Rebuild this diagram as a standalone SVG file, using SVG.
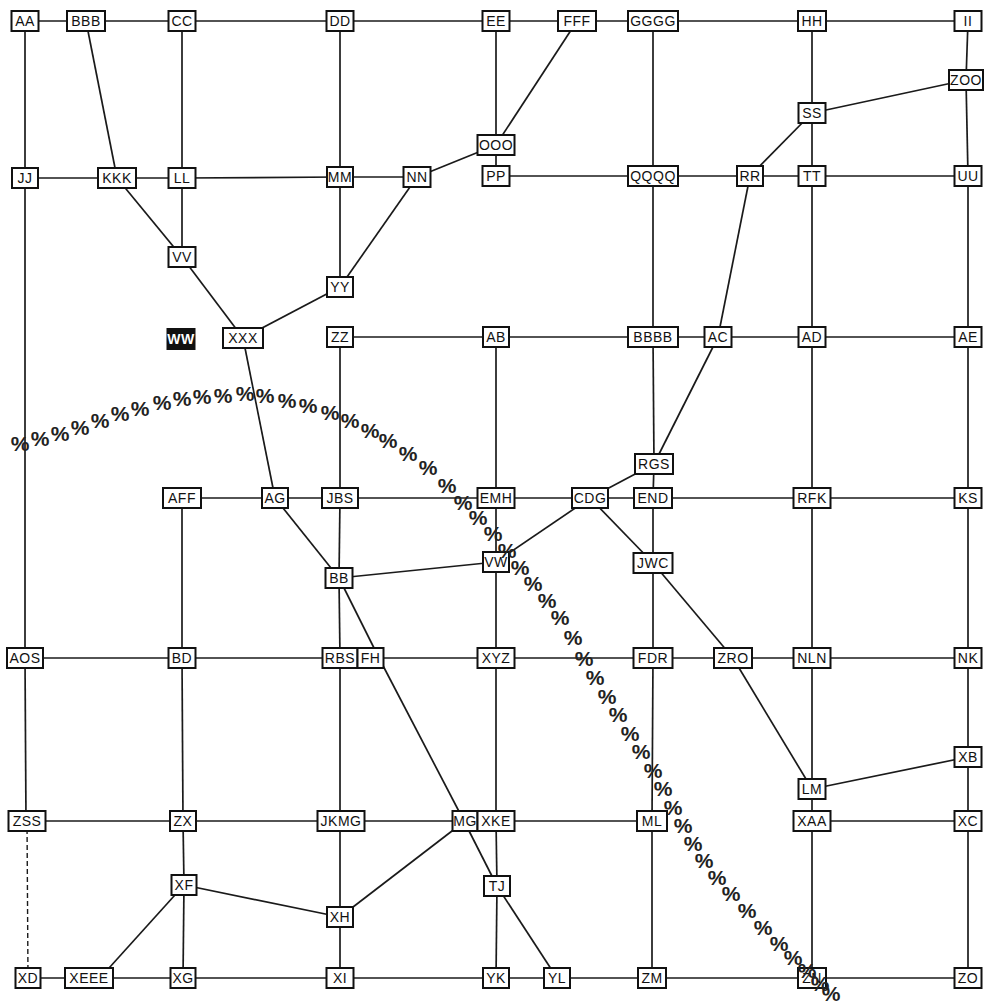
<svg xmlns="http://www.w3.org/2000/svg" width="984" height="1004" viewBox="0 0 984 1004">
<style>
.e{stroke:#1a1a1a;stroke-width:1.7;fill:none}
.d{stroke:#1a1a1a;stroke-width:1.4;fill:none;stroke-dasharray:5 3}
.node rect{fill:#fff;stroke:#111;stroke-width:2}
.node text{font-family:"Liberation Sans",Arial,sans-serif;font-size:14px;letter-spacing:0.5px;fill:#111;text-anchor:middle}
.node.dark rect{fill:#111}
.node.dark text{fill:#fff;font-weight:bold}
.pc text{font-family:"Liberation Sans",Arial,sans-serif;font-size:21px;font-weight:bold;fill:#222;text-anchor:middle}
</style>
<rect width="984" height="1004" fill="#fff"/>
<g id="connectors">
<line class="e" x1="25" y1="21" x2="86" y2="21"/>
<line class="e" x1="86" y1="21" x2="182" y2="21"/>
<line class="e" x1="182" y1="21" x2="340" y2="21"/>
<line class="e" x1="340" y1="21" x2="496" y2="21"/>
<line class="e" x1="496" y1="21" x2="577" y2="21"/>
<line class="e" x1="577" y1="21" x2="653" y2="21"/>
<line class="e" x1="653" y1="21" x2="812" y2="21"/>
<line class="e" x1="812" y1="21" x2="968" y2="21"/>
<line class="e" x1="25" y1="178" x2="117" y2="178"/>
<line class="e" x1="117" y1="178" x2="182" y2="178"/>
<line class="e" x1="182" y1="178" x2="340" y2="177"/>
<line class="e" x1="340" y1="177" x2="417" y2="177"/>
<line class="e" x1="496" y1="176" x2="653" y2="176"/>
<line class="e" x1="653" y1="176" x2="750" y2="176"/>
<line class="e" x1="750" y1="176" x2="812" y2="176"/>
<line class="e" x1="812" y1="176" x2="968" y2="176"/>
<line class="e" x1="340" y1="337" x2="496" y2="337"/>
<line class="e" x1="496" y1="337" x2="653" y2="337"/>
<line class="e" x1="653" y1="337" x2="718" y2="337"/>
<line class="e" x1="718" y1="337" x2="812" y2="337"/>
<line class="e" x1="812" y1="337" x2="968" y2="337"/>
<line class="e" x1="182" y1="498" x2="275" y2="498"/>
<line class="e" x1="275" y1="498" x2="340" y2="498"/>
<line class="e" x1="340" y1="498" x2="496" y2="498"/>
<line class="e" x1="496" y1="498" x2="590" y2="498"/>
<line class="e" x1="590" y1="498" x2="653" y2="498"/>
<line class="e" x1="653" y1="498" x2="812" y2="498"/>
<line class="e" x1="812" y1="498" x2="968" y2="498"/>
<line class="e" x1="25" y1="658" x2="182" y2="658"/>
<line class="e" x1="182" y1="658" x2="340" y2="658"/>
<line class="e" x1="370" y1="658" x2="496" y2="658"/>
<line class="e" x1="496" y1="658" x2="653" y2="658"/>
<line class="e" x1="653" y1="658" x2="733" y2="658"/>
<line class="e" x1="733" y1="658" x2="812" y2="658"/>
<line class="e" x1="812" y1="658" x2="968" y2="658"/>
<line class="e" x1="27" y1="821" x2="183" y2="821"/>
<line class="e" x1="183" y1="821" x2="341" y2="821"/>
<line class="e" x1="341" y1="821" x2="465" y2="821"/>
<line class="e" x1="496" y1="821" x2="652" y2="821"/>
<line class="e" x1="812" y1="821" x2="968" y2="821"/>
<line class="e" x1="28" y1="978" x2="89" y2="978"/>
<line class="e" x1="89" y1="978" x2="183" y2="978"/>
<line class="e" x1="183" y1="978" x2="340" y2="978"/>
<line class="e" x1="340" y1="978" x2="496" y2="978"/>
<line class="e" x1="496" y1="978" x2="557" y2="978"/>
<line class="e" x1="557" y1="978" x2="652" y2="978"/>
<line class="e" x1="652" y1="978" x2="812" y2="978"/>
<line class="e" x1="812" y1="978" x2="968" y2="978"/>
<line class="e" x1="25" y1="21" x2="25" y2="178"/>
<line class="e" x1="25" y1="178" x2="25" y2="658"/>
<line class="e" x1="25" y1="658" x2="26" y2="821"/>
<line class="d" x1="27" y1="821" x2="28" y2="978"/>
<line class="e" x1="182" y1="21" x2="182" y2="178"/>
<line class="e" x1="182" y1="178" x2="182" y2="257"/>
<line class="e" x1="182" y1="498" x2="182" y2="658"/>
<line class="e" x1="182" y1="658" x2="183" y2="821"/>
<line class="e" x1="183" y1="821" x2="184" y2="885"/>
<line class="e" x1="184" y1="885" x2="183" y2="978"/>
<line class="e" x1="340" y1="21" x2="340" y2="177"/>
<line class="e" x1="340" y1="177" x2="340" y2="287"/>
<line class="e" x1="340" y1="337" x2="340" y2="498"/>
<line class="e" x1="340" y1="498" x2="339" y2="578"/>
<line class="e" x1="339" y1="578" x2="340" y2="658"/>
<line class="e" x1="340" y1="658" x2="340" y2="821"/>
<line class="e" x1="340" y1="821" x2="340" y2="917"/>
<line class="e" x1="340" y1="917" x2="340" y2="978"/>
<line class="e" x1="496" y1="21" x2="496" y2="145"/>
<line class="e" x1="496" y1="145" x2="496" y2="176"/>
<line class="e" x1="496" y1="337" x2="496" y2="498"/>
<line class="e" x1="496" y1="498" x2="496" y2="562"/>
<line class="e" x1="496" y1="562" x2="496" y2="658"/>
<line class="e" x1="496" y1="658" x2="496" y2="821"/>
<line class="e" x1="496" y1="821" x2="497" y2="886"/>
<line class="e" x1="497" y1="886" x2="496" y2="978"/>
<line class="e" x1="653" y1="21" x2="653" y2="176"/>
<line class="e" x1="653" y1="176" x2="653" y2="337"/>
<line class="e" x1="653" y1="337" x2="654" y2="464"/>
<line class="e" x1="654" y1="464" x2="653" y2="498"/>
<line class="e" x1="653" y1="498" x2="653" y2="563"/>
<line class="e" x1="653" y1="563" x2="653" y2="658"/>
<line class="e" x1="653" y1="658" x2="652" y2="821"/>
<line class="e" x1="652" y1="821" x2="652" y2="978"/>
<line class="e" x1="812" y1="21" x2="812" y2="113"/>
<line class="e" x1="812" y1="113" x2="812" y2="176"/>
<line class="e" x1="812" y1="176" x2="812" y2="337"/>
<line class="e" x1="812" y1="337" x2="812" y2="498"/>
<line class="e" x1="812" y1="498" x2="812" y2="658"/>
<line class="e" x1="812" y1="658" x2="812" y2="789"/>
<line class="e" x1="812" y1="789" x2="812" y2="821"/>
<line class="e" x1="812" y1="821" x2="812" y2="978"/>
<line class="e" x1="968" y1="21" x2="966" y2="80"/>
<line class="e" x1="966" y1="80" x2="968" y2="176"/>
<line class="e" x1="968" y1="176" x2="968" y2="337"/>
<line class="e" x1="968" y1="337" x2="968" y2="498"/>
<line class="e" x1="968" y1="498" x2="968" y2="658"/>
<line class="e" x1="968" y1="658" x2="968" y2="757"/>
<line class="e" x1="968" y1="757" x2="968" y2="821"/>
<line class="e" x1="968" y1="821" x2="968" y2="978"/>
<line class="e" x1="86" y1="21" x2="117" y2="178"/>
<line class="e" x1="577" y1="21" x2="496" y2="145"/>
<line class="e" x1="417" y1="177" x2="496" y2="145"/>
<line class="e" x1="417" y1="177" x2="340" y2="287"/>
<line class="e" x1="117" y1="178" x2="182" y2="257"/>
<line class="e" x1="182" y1="257" x2="243" y2="338"/>
<line class="e" x1="340" y1="287" x2="243" y2="338"/>
<line class="e" x1="812" y1="113" x2="966" y2="80"/>
<line class="e" x1="812" y1="113" x2="750" y2="176"/>
<line class="e" x1="750" y1="176" x2="718" y2="337"/>
<line class="e" x1="718" y1="337" x2="654" y2="464"/>
<line class="e" x1="654" y1="464" x2="590" y2="498"/>
<line class="e" x1="243" y1="338" x2="275" y2="498"/>
<line class="e" x1="275" y1="498" x2="339" y2="578"/>
<line class="e" x1="339" y1="578" x2="496" y2="562"/>
<line class="e" x1="590" y1="498" x2="496" y2="562"/>
<line class="e" x1="590" y1="498" x2="653" y2="563"/>
<line class="e" x1="339" y1="578" x2="379" y2="658"/>
<line class="e" x1="379" y1="658" x2="464" y2="821"/>
<line class="e" x1="464" y1="821" x2="497" y2="886"/>
<line class="e" x1="653" y1="563" x2="733" y2="658"/>
<line class="e" x1="733" y1="658" x2="812" y2="789"/>
<line class="e" x1="812" y1="789" x2="968" y2="757"/>
<line class="e" x1="465" y1="821" x2="340" y2="917"/>
<line class="e" x1="184" y1="885" x2="340" y2="917"/>
<line class="e" x1="184" y1="885" x2="100" y2="978"/>
<line class="e" x1="497" y1="886" x2="557" y2="978"/>
</g>
<g id="nodes">
<g id="n-AA" class="node"><rect x="11.5" y="11" width="27" height="20"/><text x="25" y="26">AA</text></g>
<g id="n-BBB" class="node"><rect x="67" y="11" width="38" height="20"/><text x="86" y="26">BBB</text></g>
<g id="n-CC" class="node"><rect x="168.5" y="11" width="27" height="20"/><text x="182" y="26">CC</text></g>
<g id="n-DD" class="node"><rect x="326.5" y="11" width="27" height="20"/><text x="340" y="26">DD</text></g>
<g id="n-EE" class="node"><rect x="482.5" y="11" width="27" height="20"/><text x="496" y="26">EE</text></g>
<g id="n-FFF" class="node"><rect x="558" y="11" width="38" height="20"/><text x="577" y="26">FFF</text></g>
<g id="n-GGGG" class="node"><rect x="628" y="11" width="50" height="20"/><text x="653" y="26">GGGG</text></g>
<g id="n-HH" class="node"><rect x="798" y="11" width="28" height="20"/><text x="812" y="26">HH</text></g>
<g id="n-II" class="node"><rect x="954.5" y="11" width="27" height="20"/><text x="968" y="26">II</text></g>
<g id="n-ZOO" class="node"><rect x="949" y="70" width="34" height="20"/><text x="966" y="85">ZOO</text></g>
<g id="n-SS" class="node"><rect x="798.5" y="103" width="27" height="20"/><text x="812" y="118">SS</text></g>
<g id="n-OOO" class="node"><rect x="477.5" y="135" width="37" height="20"/><text x="496" y="150">OOO</text></g>
<g id="n-JJ" class="node"><rect x="12" y="168" width="26" height="20"/><text x="25" y="183">JJ</text></g>
<g id="n-KKK" class="node"><rect x="98" y="168" width="38" height="20"/><text x="117" y="183">KKK</text></g>
<g id="n-LL" class="node"><rect x="168.5" y="168" width="27" height="20"/><text x="182" y="183">LL</text></g>
<g id="n-MM" class="node"><rect x="327" y="167" width="26" height="20"/><text x="340" y="182">MM</text></g>
<g id="n-NN" class="node"><rect x="403.5" y="167" width="27" height="20"/><text x="417" y="182">NN</text></g>
<g id="n-PP" class="node"><rect x="482.5" y="166" width="27" height="20"/><text x="496" y="181">PP</text></g>
<g id="n-QQQQ" class="node"><rect x="628" y="166" width="50" height="20"/><text x="653" y="181">QQQQ</text></g>
<g id="n-RR" class="node"><rect x="737" y="166" width="26" height="20"/><text x="750" y="181">RR</text></g>
<g id="n-TT" class="node"><rect x="798.5" y="166" width="27" height="20"/><text x="812" y="181">TT</text></g>
<g id="n-UU" class="node"><rect x="954.5" y="166" width="27" height="20"/><text x="968" y="181">UU</text></g>
<g id="n-VV" class="node"><rect x="168.5" y="247" width="27" height="20"/><text x="182" y="262">VV</text></g>
<g id="n-YY" class="node"><rect x="327" y="277" width="26" height="20"/><text x="340" y="292">YY</text></g>
<g id="n-WW" class="node dark"><rect x="167.5" y="329" width="27" height="20"/><text x="181" y="344">WW</text></g>
<g id="n-XXX" class="node"><rect x="223" y="328" width="40" height="20"/><text x="243" y="343">XXX</text></g>
<g id="n-ZZ" class="node"><rect x="327" y="327" width="26" height="20"/><text x="340" y="342">ZZ</text></g>
<g id="n-AB" class="node"><rect x="483" y="327" width="26" height="20"/><text x="496" y="342">AB</text></g>
<g id="n-BBBB" class="node"><rect x="628" y="327" width="50" height="20"/><text x="653" y="342">BBBB</text></g>
<g id="n-AC" class="node"><rect x="704.5" y="327" width="27" height="20"/><text x="718" y="342">AC</text></g>
<g id="n-AD" class="node"><rect x="798.5" y="327" width="27" height="20"/><text x="812" y="342">AD</text></g>
<g id="n-AE" class="node"><rect x="954.5" y="327" width="27" height="20"/><text x="968" y="342">AE</text></g>
<g id="n-RGS" class="node"><rect x="635" y="454" width="38" height="20"/><text x="654" y="469">RGS</text></g>
<g id="n-AFF" class="node"><rect x="163" y="488" width="38" height="20"/><text x="182" y="503">AFF</text></g>
<g id="n-AG" class="node"><rect x="262" y="488" width="26" height="20"/><text x="275" y="503">AG</text></g>
<g id="n-JBS" class="node"><rect x="322" y="488" width="36" height="20"/><text x="340" y="503">JBS</text></g>
<g id="n-EMH" class="node"><rect x="477.5" y="488" width="37" height="20"/><text x="496" y="503">EMH</text></g>
<g id="n-CDG" class="node"><rect x="572" y="488" width="36" height="20"/><text x="590" y="503">CDG</text></g>
<g id="n-END" class="node"><rect x="634" y="488" width="38" height="20"/><text x="653" y="503">END</text></g>
<g id="n-RFK" class="node"><rect x="793.5" y="488" width="37" height="20"/><text x="812" y="503">RFK</text></g>
<g id="n-KS" class="node"><rect x="954.5" y="488" width="27" height="20"/><text x="968" y="503">KS</text></g>
<g id="n-VW" class="node"><rect x="483" y="552" width="26" height="20"/><text x="496" y="567">VW</text></g>
<g id="n-JWC" class="node"><rect x="633.5" y="553" width="39" height="20"/><text x="653" y="568">JWC</text></g>
<g id="n-BB" class="node"><rect x="325.5" y="568" width="27" height="20"/><text x="339" y="583">BB</text></g>
<g id="n-AOS" class="node"><rect x="7" y="648" width="36" height="20"/><text x="25" y="663">AOS</text></g>
<g id="n-BD" class="node"><rect x="168.5" y="648" width="27" height="20"/><text x="182" y="663">BD</text></g>
<g id="n-RBS" class="node"><rect x="322.5" y="648" width="35" height="20"/><text x="340" y="663">RBS</text></g>
<g id="n-FH" class="node"><rect x="357.5" y="648" width="26" height="20"/><text x="370.5" y="663">FH</text></g>
<g id="n-XYZ" class="node"><rect x="477.5" y="648" width="37" height="20"/><text x="496" y="663">XYZ</text></g>
<g id="n-FDR" class="node"><rect x="633.5" y="648" width="39" height="20"/><text x="653" y="663">FDR</text></g>
<g id="n-ZRO" class="node"><rect x="714" y="648" width="38" height="20"/><text x="733" y="663">ZRO</text></g>
<g id="n-NLN" class="node"><rect x="793.5" y="648" width="37" height="20"/><text x="812" y="663">NLN</text></g>
<g id="n-NK" class="node"><rect x="954.5" y="648" width="27" height="20"/><text x="968" y="663">NK</text></g>
<g id="n-XB" class="node"><rect x="954.5" y="747" width="27" height="20"/><text x="968" y="762">XB</text></g>
<g id="n-LM" class="node"><rect x="798.5" y="779" width="27" height="20"/><text x="812" y="794">LM</text></g>
<g id="n-ZSS" class="node"><rect x="8.5" y="811" width="37" height="20"/><text x="27" y="826">ZSS</text></g>
<g id="n-ZX" class="node"><rect x="170" y="811" width="26" height="20"/><text x="183" y="826">ZX</text></g>
<g id="n-JKMG" class="node"><rect x="317.5" y="811" width="47" height="20"/><text x="341" y="826">JKMG</text></g>
<g id="n-MG" class="node"><rect x="452.5" y="811" width="25" height="20"/><text x="465" y="826">MG</text></g>
<g id="n-XKE" class="node"><rect x="477.5" y="811" width="37" height="20"/><text x="496" y="826">XKE</text></g>
<g id="n-ML" class="node"><rect x="637" y="811" width="30" height="20"/><text x="652" y="826">ML</text></g>
<g id="n-XAA" class="node"><rect x="793.5" y="811" width="37" height="20"/><text x="812" y="826">XAA</text></g>
<g id="n-XC" class="node"><rect x="954.5" y="811" width="27" height="20"/><text x="968" y="826">XC</text></g>
<g id="n-XF" class="node"><rect x="171.5" y="875" width="25" height="20"/><text x="184" y="890">XF</text></g>
<g id="n-TJ" class="node"><rect x="484" y="876" width="26" height="20"/><text x="497" y="891">TJ</text></g>
<g id="n-XH" class="node"><rect x="327" y="907" width="26" height="20"/><text x="340" y="922">XH</text></g>
<g id="n-XD" class="node"><rect x="15.5" y="968" width="25" height="20"/><text x="28" y="983">XD</text></g>
<g id="n-XEEE" class="node"><rect x="65" y="968" width="48" height="20"/><text x="89" y="983">XEEE</text></g>
<g id="n-XG" class="node"><rect x="170.5" y="968" width="25" height="20"/><text x="183" y="983">XG</text></g>
<g id="n-XI" class="node"><rect x="326.5" y="968" width="27" height="20"/><text x="340" y="983">XI</text></g>
<g id="n-YK" class="node"><rect x="483" y="968" width="26" height="20"/><text x="496" y="983">YK</text></g>
<g id="n-YL" class="node"><rect x="544" y="968" width="26" height="20"/><text x="557" y="983">YL</text></g>
<g id="n-ZM" class="node"><rect x="638" y="968" width="28" height="20"/><text x="652" y="983">ZM</text></g>
<g id="n-ZN" class="node"><rect x="798" y="968" width="28" height="20"/><text x="812" y="983">ZN</text></g>
<g id="n-ZO" class="node"><rect x="954.5" y="968" width="27" height="20"/><text x="968" y="983">ZO</text></g>
</g>
<g id="percent-chain" class="pc">
<text x="20" y="451">%</text><text x="40" y="446">%</text><text x="60" y="441">%</text><text x="80" y="435">%</text><text x="100" y="428">%</text>
<text x="120" y="421">%</text><text x="140" y="416">%</text><text x="162" y="410">%</text><text x="182" y="406">%</text><text x="202" y="404">%</text>
<text x="223" y="403">%</text><text x="245" y="401">%</text><text x="265" y="403">%</text><text x="287" y="408">%</text><text x="308" y="413">%</text>
<text x="330" y="420">%</text><text x="350" y="428">%</text><text x="370" y="438">%</text><text x="388" y="448">%</text><text x="408" y="461">%</text>
<text x="428" y="475">%</text><text x="447" y="493">%</text><text x="463" y="510">%</text><text x="478" y="525">%</text><text x="493" y="541">%</text>
<text x="507" y="558">%</text><text x="520" y="575">%</text><text x="533" y="591">%</text><text x="547" y="608">%</text><text x="560" y="625">%</text>
<text x="573" y="645">%</text><text x="584" y="666">%</text><text x="595" y="685">%</text><text x="607" y="704">%</text><text x="618" y="722">%</text>
<text x="630" y="741">%</text><text x="641" y="759">%</text><text x="653" y="778">%</text><text x="663" y="796">%</text><text x="673" y="815">%</text>
<text x="683" y="833">%</text><text x="693" y="851">%</text><text x="704" y="868">%</text><text x="717" y="885">%</text><text x="731" y="901">%</text>
<text x="747" y="918">%</text><text x="763" y="935">%</text><text x="779" y="951">%</text><text x="793" y="965">%</text><text x="807" y="978">%</text>
<text x="820" y="991">%</text><text x="831" y="1001">%</text>
</g>
</svg>
